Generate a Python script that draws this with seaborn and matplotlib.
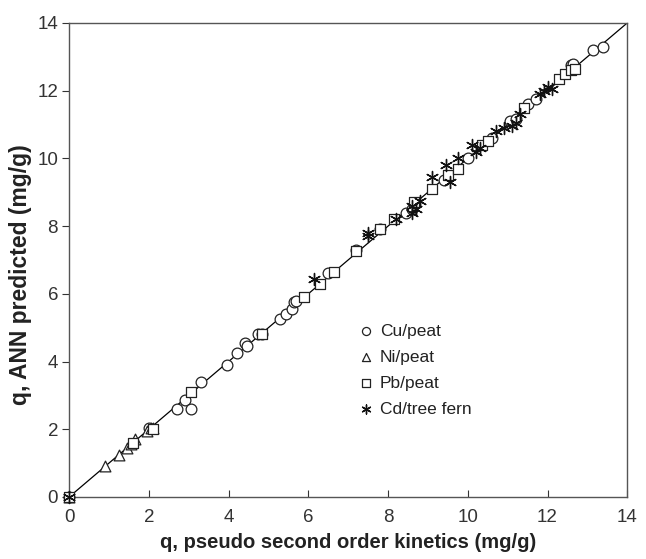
import numpy as np
import pandas as pd
import seaborn as sns
import matplotlib.pyplot as plt

# values (x: pseudo second order, y: ANN predicted)
cu_x = [0, 2.0, 2.7, 2.9, 3.05, 3.3, 3.95, 4.2, 4.4, 4.45, 4.75, 4.85, 5.3, 5.45, 5.6,
        5.65, 5.7, 6.5, 7.2, 7.8, 8.45, 8.6, 9.4, 10.0, 10.6, 11.05, 11.2, 11.5, 11.7,
        12.6, 12.65, 13.15, 13.4]
cu_y = [0, 2.05, 2.6, 2.85, 2.6, 3.4, 3.9, 4.25, 4.55, 4.45, 4.8, 4.8, 5.25, 5.4, 5.55,
        5.75, 5.8, 6.6, 7.3, 7.9, 8.4, 8.5, 9.35, 10.0, 10.6, 11.1, 11.15, 11.6, 11.75,
        12.75, 12.8, 13.2, 13.3]

ni_x = [0, 0.9, 1.25, 1.45, 1.55, 1.65, 1.95, 2.05, 2.1]
ni_y = [0, 0.9, 1.25, 1.45, 1.55, 1.7, 1.95, 2.05, 2.05]

pb_x = [0, 1.6, 2.1, 3.05, 4.85, 5.9, 6.3, 6.65, 7.2, 7.8, 8.15, 8.65, 9.1, 9.5, 9.75,
        10.35, 10.5, 11.4, 12.3, 12.45, 12.6, 12.7]
pb_y = [0, 1.6, 2.0, 3.1, 4.8, 5.9, 6.3, 6.65, 7.25, 7.9, 8.2, 8.7, 9.1, 9.5, 9.7,
        10.4, 10.5, 11.5, 12.35, 12.5, 12.6, 12.65]

cd_x = [0, 6.15, 7.5, 7.5, 8.2, 8.6, 8.7, 8.6, 8.8, 9.1, 9.45, 9.75, 9.55, 10.1, 10.2,
        10.3, 10.7, 10.9, 11.1, 11.2, 11.3, 11.8, 11.9, 12.0, 12.1]
cd_y = [0, 6.45, 7.8, 7.7, 8.2, 8.4, 8.5, 8.6, 8.75, 9.45, 9.8, 10.0, 9.3, 10.4, 10.2,
        10.3, 10.8, 10.9, 10.95, 11.05, 11.3, 11.9, 12.0, 12.1, 12.05]

sns.set_style("ticks")
plt.rcParams['font.family'] = ['Liberation Sans', 'DejaVu Sans']

fig = plt.figure(figsize=(6.46, 5.59), dpi=100)
ax = fig.add_axes([0.107, 0.111, 0.864, 0.848])

# 1:1 line
ax.plot([0, 14], [0, 14], color='black', lw=0.9, zorder=1)

sns.scatterplot(x=cu_x, y=cu_y, marker='o', s=60, facecolor='white', edgecolor='#222222',
                linewidth=0.9, ax=ax, label='Cu/peat', zorder=3, clip_on=False)
sns.scatterplot(x=ni_x, y=ni_y, marker='^', s=60, facecolor='white', edgecolor='#222222',
                linewidth=0.9, ax=ax, label='Ni/peat', zorder=3, clip_on=False)
sns.scatterplot(x=pb_x, y=pb_y, marker='s', s=60, facecolor='white', edgecolor='#222222',
                linewidth=0.9, ax=ax, label='Pb/peat', zorder=3, clip_on=False)
sns.scatterplot(x=cd_x, y=cd_y, marker=(6, 2, 0), s=75, color='#111111',
                linewidth=1.0, ax=ax, label='Cd/tree fern', zorder=4, clip_on=False)

ax.set_xlim(0, 14)
ax.set_ylim(0, 14)
ax.set_xticks(np.arange(0, 15, 2))
ax.set_yticks(np.arange(0, 15, 2))
ax.tick_params(axis='x', direction='in', labelsize=13.5, length=5, pad=9, colors='#333333')
ax.tick_params(axis='y', direction='out', labelsize=13.5, length=5, pad=3, colors='#333333')
for sp in ax.spines.values():
    sp.set_color('#555555')
    sp.set_linewidth(1.0)

ax.set_xlabel('q, pseudo second order kinetics (mg/g)', fontsize=14.5, fontweight='bold',
              labelpad=5, color='#222222')
ax.set_ylabel('q, ANN predicted (mg/g)', fontsize=16.5, fontweight='bold',
              color='#222222')
ax.yaxis.set_label_coords(-0.066, 0.47)

leg = ax.legend(loc='upper left', bbox_to_anchor=(0.504, 0.38), frameon=False, fontsize=12.5,
                handletextpad=0.3, borderaxespad=0, labelspacing=0.62, handlelength=1.0,
                markerscale=0.75)
for t in leg.get_texts():
    t.set_color('#222222')

fig.savefig('out.png', dpi=100)
